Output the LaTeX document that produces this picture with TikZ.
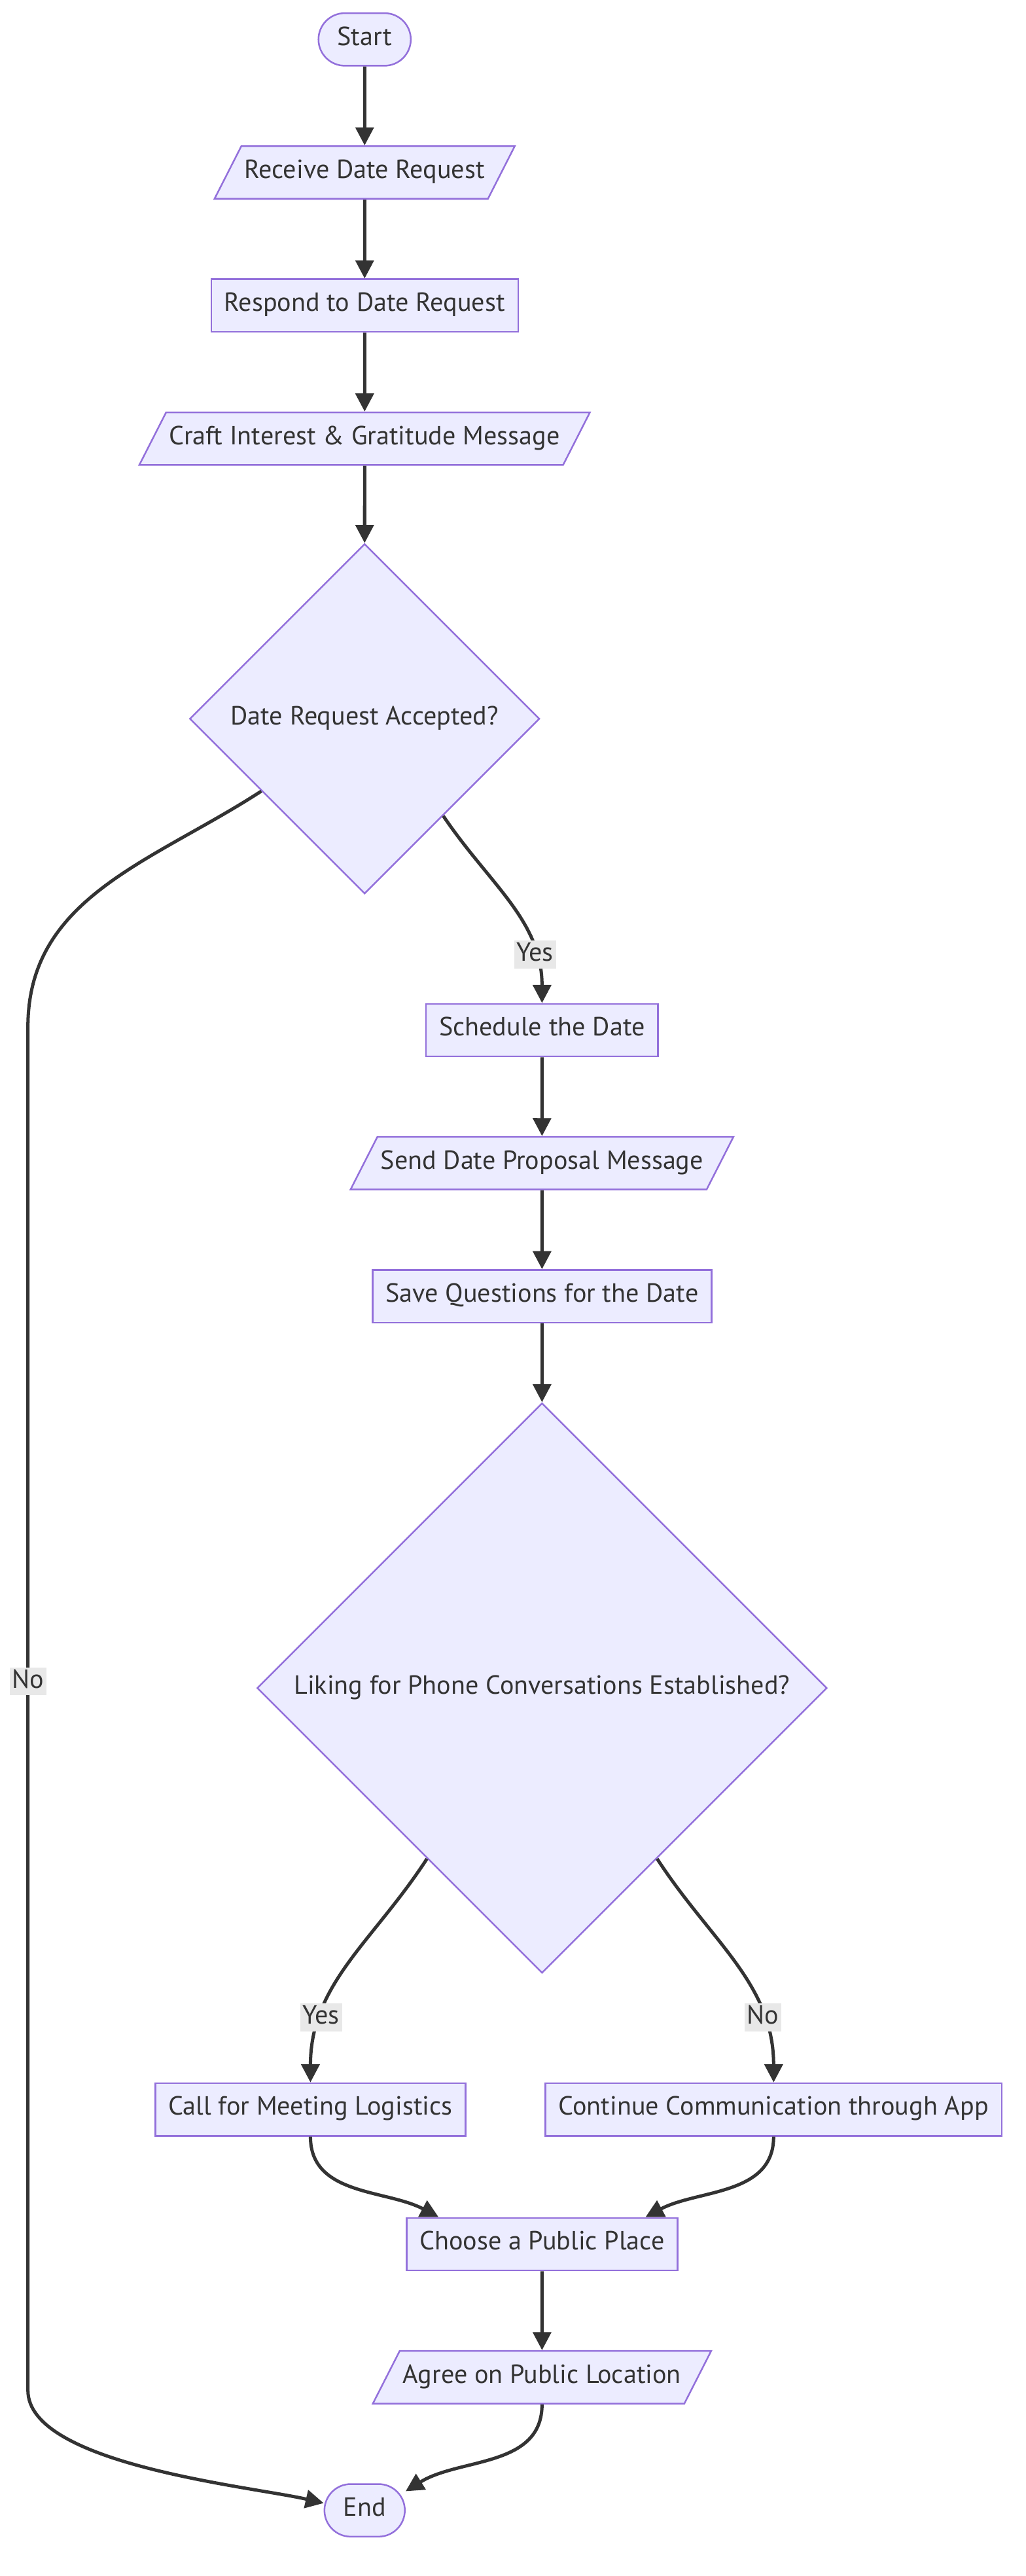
\documentclass[tikz,border=0pt]{standalone}
\usepackage{fontspec}
\setmainfont{PT Sans}
\usetikzlibrary{positioning,shapes.geometric,arrows.meta}
\definecolor{nodefill}{HTML}{ECECFF}
\definecolor{nodeline}{HTML}{9370DB}
\definecolor{linkcol}{HTML}{333333}
\definecolor{labelbg}{HTML}{E8E8E8}

\begin{document}
\begin{tikzpicture}[
    x=1pt, y=-1pt,
    >={Triangle[length=11pt,width=11pt]},
    every node/.style={font=\fontsize{16}{19}\selectfont, text=linkcol, node distance=48pt},
    base/.style={draw=nodeline, fill=nodefill, line width=1pt, text height=11pt,
        text depth=4pt, inner ysep=8.5pt},
    box/.style={base, inner xsep=8pt},
    io/.style={base, trapezium, trapezium left angle=63, trapezium right angle=117, inner xsep=2pt},
    term/.style={base, rounded corners=16pt, inner xsep=11.5pt},
    choice/.style={base, diamond, inner sep=0pt},
    flow/.style={->, draw=linkcol, line width=2pt},
    lbl/.style={fill=labelbg, inner sep=1.5pt, text height=11pt, text depth=3pt}]

    \path[use as bounding box, fill=white] (0,0) rectangle (624.6,1568);

    % main column
    \node[term] (start) at (222,24) {Start};
    \node[io, below=of start] (recv) {Receive Date Request};
    \node[box, below=of recv] (resp) {Respond to Date Request};
    \node[io, below=of resp] (craft) {Craft Interest \& Gratitude Message};
    \node[choice, minimum size=213pt, below=47pt of craft] (acc) {Date Request Accepted?};

    % yes branch
    \node[box, below=66pt of acc, xshift=108pt] (sched) {Schedule the Date};
    \node[io, below=of sched] (propose) {Send Date Proposal Message};
    \node[box, below=of propose] (quest) {Save Questions for the Date};
    \node[choice, minimum size=347pt, below=of quest] (phone) {Liking for Phone Conversations Established?};
        \node[box, below=66pt of phone, xshift=-141pt] (call) {Call for Meeting Logistics};
        \node[box, below=66pt of phone, xshift=141pt] (app) {Continue Communication through App};
    \coordinate (split) at (call.south -| phone.south);
    \node[box, below=49pt of split] (place) {Choose a Public Place};
    \node[io, below=of place] (agree) {Agree on Public Location};
    \node[term, below=of agree, xshift=-108pt] (end) {End};

    % no branch runs down the left edge
    \coordinate (noTop) at (17,625);
    \coordinate (noBot) at (17,1455);

    \draw[flow] (start) -- (recv);
    \draw[flow] (recv) -- (resp);
    \draw[flow] (resp) -- (craft);
    \draw[flow] (craft) -- (acc);
    \draw[flow] (acc.-51) to[out=-56, in=90] node[lbl, pos=0.78] {Yes} (sched.north);
    \draw[flow] (acc.-145) to[out=-147, in=90] (noTop) -- node[lbl, pos=0.48] {No} (noBot)
        to[out=-90, in=167, looseness=0.6] (end.170);
    \draw[flow] (sched) -- (propose);
    \draw[flow] (propose) -- (quest);
    \draw[flow] (quest) -- (phone);
    \draw[flow] (phone.-124) to[out=-123, in=90] node[lbl, pos=0.75] {Yes} (call.north);
    \draw[flow] (phone.-56) to[out=-57, in=90] node[lbl, pos=0.75] {No} (app.north);
    \draw[flow] (call.south) to[out=-90, in=152] ([xshift=20pt]place.north west);
    \draw[flow] (app.south) to[out=-90, in=28] ([xshift=-20pt]place.north east);
    \draw[flow] (place) -- (agree);
    \draw[flow] (agree.south) to[out=-90, in=32] (end.25);

\end{tikzpicture}
\end{document}
